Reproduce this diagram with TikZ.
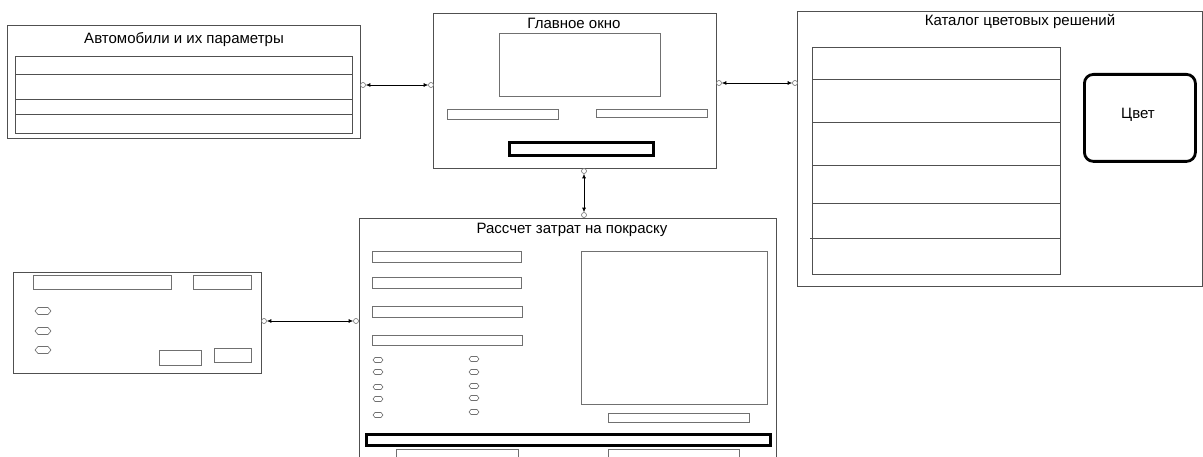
\documentclass[tikz,border=0pt]{standalone}
\usepackage{fontspec}
\setmainfont{Liberation Sans}
\usetikzlibrary{arrows.meta}
\definecolor{edge}{HTML}{505050}
\definecolor{inner}{HTML}{707070}
\tikzset{
  x=1pt, y=-1pt,
  outerbox/.style={draw=edge, line width=0.9pt, inner sep=0pt, anchor=north west},
  innerbox/.style={draw=inner, line width=0.8pt, inner sep=0pt, anchor=north west},
  thickbar/.style={draw=black, line width=2.8pt, inner sep=0pt, anchor=north west},
  title/.style={font=\fontsize{15}{17}\selectfont, text=black, inner sep=0pt},
  oc/.style={circle, draw=inner, fill=white, line width=0.6pt, minimum size=5pt, inner sep=0pt},
  conn/.style={draw=black, line width=0.7pt, {Latex[length=4.5pt,width=4pt]}-{Latex[length=4.5pt,width=4pt]}},
  rowline/.style={draw=edge, line width=0.8pt},
  hexbig/.pic={\draw[draw=inner, line width=0.6pt] (-8,0) -- (-5,-3.5) -- (5,-3.5) -- (8,0) -- (5,3.5) -- (-5,3.5) -- cycle;},
  hexsmall/.pic={\draw[draw=inner, line width=0.6pt] (-5,0) -- (-3,-2.5) -- (3,-2.5) -- (5,0) -- (3,2.5) -- (-3,2.5) -- cycle;}
}
\begin{document}
\begin{tikzpicture}
\useasboundingbox (0,0) rectangle (1203,457);
\clip (0,0) rectangle (1203,457);
\fill[white] (0,0) rectangle (1203,457);

% Автомобили и их параметры
\node[outerbox, minimum width=353pt, minimum height=113pt] (A) at (7,25) {};
\node[title] (At) at (184,40) {Автомобили и их параметры};
\node[innerbox, draw=edge, minimum width=337pt, minimum height=77pt] (Atab) at (15,56) {};
\draw[rowline] (15,74) -- (352,74);
\draw[rowline] (15,99) -- (352,99);
\draw[rowline] (15,114) -- (352,114);

% Главное окно
\node[outerbox, minimum width=283pt, minimum height=155pt] (M) at (433,13) {};
\node[title] (Mt) at (574,23) {Главное окно};
\node[innerbox, minimum width=161pt, minimum height=63pt] (Mscr) at (499,33) {};
\node[innerbox, minimum width=111pt, minimum height=10pt] (Mb1) at (447,109) {};
\node[innerbox, minimum width=111pt, minimum height=8pt] (Mb2) at (596,109) {};
\node[thickbar, minimum width=144pt, minimum height=13pt] (Mtb) at (508,141) {};

% Каталог цветовых решений
\node[outerbox, minimum width=405pt, minimum height=275pt] (C) at (797,11) {};
\node[title] (Ct) at (1020,21) {Каталог цветовых решений};
\node[innerbox, draw=edge, minimum width=248pt, minimum height=227pt] (Ctab) at (812,47) {};
\draw[rowline] (812,79) -- (1061,79);
\draw[rowline] (812,122) -- (1061,122);
\draw[rowline] (812,165) -- (1060,165);
\draw[rowline] (812,203) -- (1060,203);
\draw[rowline] (810,238) -- (1060,238);
\node[draw=black, line width=2.8pt, rounded corners=9pt, minimum width=111pt, minimum height=87pt, inner sep=0pt, anchor=north west] (Col) at (1083,73) {};
\node[title] (Colt) at (1138,115) {Цвет};

% Small window
\node[outerbox, minimum width=248pt, minimum height=101pt] (S) at (13,272) {};
\node[innerbox, minimum width=138pt, minimum height=14pt] (Sb1) at (33,275) {};
\node[innerbox, minimum width=58pt, minimum height=14pt] (Sb2) at (193,275) {};
\node[innerbox, minimum width=42pt, minimum height=15pt] (Sbt1) at (159,350) {};
\node[innerbox, minimum width=37pt, minimum height=14pt] (Sbt2) at (214,348) {};
\pic at (43,311) {hexbig};
\pic at (43,331) {hexbig};
\pic at (43,350) {hexbig};

% Рассчет затрат на покраску
\node[outerbox, minimum width=417pt, minimum height=260pt] (R) at (359,218) {};
\node[title] (Rt) at (572,230) {Рассчет затрат на покраску};
\node[innerbox, minimum width=149pt, minimum height=11pt] (Rb1) at (372,251) {};
\node[innerbox, minimum width=149pt, minimum height=11pt] (Rb2) at (372,277) {};
\node[innerbox, minimum width=150pt, minimum height=11pt] (Rb3) at (372,306) {};
\node[innerbox, minimum width=150pt, minimum height=10pt] (Rb4) at (372,335) {};
\node[innerbox, minimum width=186pt, minimum height=153pt] (Rscr) at (581,251) {};
\node[innerbox, minimum width=141pt, minimum height=9pt] (Rb5) at (608,413) {};
\node[thickbar, minimum width=404pt, minimum height=11pt] (Rtb) at (365,433) {};
\node[innerbox, minimum width=122pt, minimum height=20pt] (Rb6) at (396,449) {};
\node[innerbox, minimum width=131pt, minimum height=20pt] (Rb7) at (608,449) {};
\foreach \y in {360,372,387,399,415} {\pic at (378,\y) {hexsmall};}
\foreach \y in {359,372,386,398,412} {\pic at (474,\y) {hexsmall};}

% Connectors
\node[oc] (c1) at (363,85) {};
\node[oc] (c2) at (431,85) {};
\draw[conn] (c1) -- (c2);
\node[oc] (c3) at (719,83) {};
\node[oc] (c4) at (795,83) {};
\draw[conn] (c3) -- (c4);
\node[oc] (c5) at (584,171) {};
\node[oc] (c6) at (584,215) {};
\draw[conn] (c5) -- (c6);
\node[oc] (c7) at (264,321) {};
\node[oc] (c8) at (356,321) {};
\draw[conn] (c7) -- (c8);
\end{tikzpicture}
\end{document}
